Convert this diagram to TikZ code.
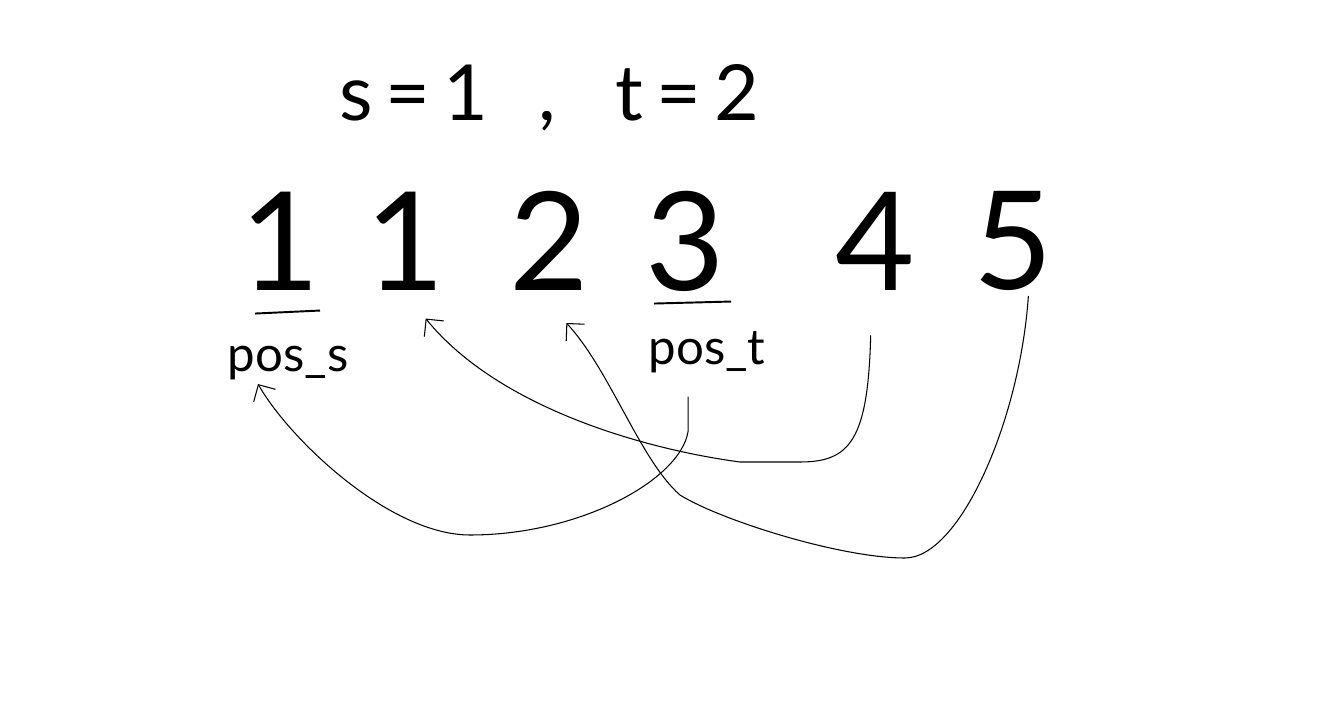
\documentclass[tikz,border=0pt]{standalone}
\usepackage{fontspec}
\setmainfont{Lato}
\usepackage{tikz}
\usetikzlibrary{positioning}
\usetikzlibrary{calc}
\usetikzlibrary{arrows.meta}
\tikzstyle{digit} = [inner sep=0pt, minimum width=1.7cm,
font=\fontsize{78}{80}\selectfont]
\tikzstyle{posname} = [inner sep=0pt, font=\fontsize{28}{30}\selectfont]
\tikzstyle{uline} = [draw, line width=1.1pt]
\tikzstyle{line} = [draw, line width=0.6pt,
-{Straight Barb[length=2.5mm, width=5mm]}]

\begin{document}
\begin{tikzpicture}[x=0.02cm, y=-0.02cm]
    \useasboundingbox (0,0) rectangle (1336,712);
    \node [digit] (d1) at (280,241) {1};
    \node [digit, right=0.8cm of d1] (d2) {1};
    \node [digit, right=1.16cm of d2] (d3) {2};
    \node [digit, right=1.0cm of d3] (d4) {3};
    \node [digit, right=2.1cm of d4] (d5) {4};
    \node [digit, right=1.04cm of d5] (d6) {5};
    \node [above=1.2cm of d3, inner sep=0pt, font=\fontsize{44}{46}\selectfont] (title) {s\,=\,1\hspace{1cm},\hspace{1.2cm}t\,=\,2};
    \node [posname, below=1.1cm of d1, xshift=0.16cm] (posS) {pos\_s};
    \node [posname, below=0.8cm of d4, xshift=0.44cm] (posT) {pos\_t};
    %% Marks
    \path [uline] ($(d1.south)+(-25,23)$) -- ($(d1.south)+(40,20)$);
    \path [uline] ($(d4.south)+(-31,12)$) -- ($(d4.south)+(46,10)$);
    %% Moves
    \path [line] ($(posT.south)+(-19,23)$) -- ++(0,35) .. controls (680,480) and (580,535) .. (470,535) .. controls (390,535) and (290,440) .. ($(posS.south)+(-30,4)$);
    \path [line] ($(d5.south)+(-5,45)$) .. controls (868,440) and (850,462) .. (800,462) -- (740,462) .. controls (650,450) and (500,410) .. ($(d2.south)+(20,28)$);
    \path [line] ($(d6.south)+(15,5)$) .. controls (1020,420) and (960,558) .. (905,558) .. controls (840,558) and (720,520) .. (680,495) .. controls (640,460) and (610,370) .. ($(d3.south)+(17,32)$);
\end{tikzpicture}
\end{document}
